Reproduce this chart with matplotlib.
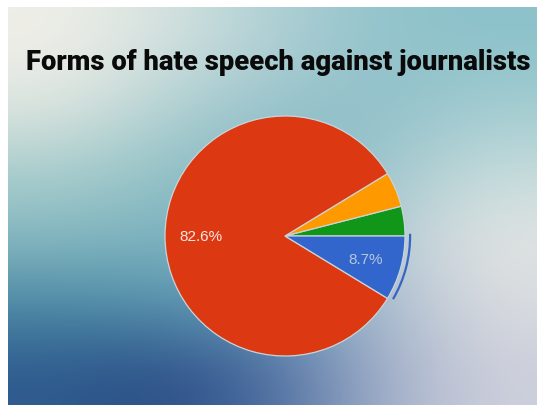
import numpy as np
import matplotlib.pyplot as plt
from matplotlib.patches import Arc
from matplotlib.colors import to_rgb

# slice shares in percent, counter-clockwise from 3 o'clock
shares = [4.0, 4.7, 82.6, 8.7]
slice_colors = ["#109618", "#ff9900", "#dc3912", "#3366cc"]
shown_labels = {2: "82.6%", 3: "8.7%"}
label_colors = {2: "#f6e8e2", 3: "#b4c8de"}
highlight = 3
title = "Forms of hate speech against journalists"

# soft background colour grid (rows top->bottom, cols left->right)
bg_grid = [
    ["#f0efe8", "#d5e2df", "#b0d0d5", "#93c3cb", "#8cc2ca"],
    ["#dfe6e0", "#b4d2d3", "#98c3cb", "#8fbfc9", "#a3ccd1"],
    ["#a9cdcd", "#93c2c6", "#7fb4c2", "#9fc6cd", "#c6dcdc"],
    ["#85b8c0", "#7db3bf", "#79b0c1", "#b4cbd4", "#e3e4e3"],
    ["#4b8aa5", "#5591ad", "#6d9fbc", "#a9bace", "#d9dce0"],
    ["#2e5a8e", "#2b4d86", "#4a6ca0", "#a0aec8", "#cdcfdc"],
]

W, H = 537, 406
fig = plt.figure(figsize=(W / 100, H / 100), dpi=100)
fig.patch.set_facecolor("white")

# gradient panel (white strip on left and top)
bg_ax = fig.add_axes([8 / W, 0, (W - 8) / W, (H - 8) / H])
bg = np.array([[to_rgb(c) for c in row] for row in bg_grid])
bg_ax.imshow(bg, aspect="auto", interpolation="bicubic",
             extent=[0, 1, 0, 1])
bg_ax.set_axis_off()

# title, scaled to span ~503 px
t = fig.text(278 / W, 1 - 63 / H, title, ha="center", va="center",
             fontsize=20, fontweight="black", color="#0a0a0a",
             family=["Roboto", "DejaVu Sans"])
renderer = fig.canvas.get_renderer()
tw = t.get_window_extent(renderer).width
t.set_fontsize(20 * 503 / tw)

# pie axes: centre at (285, 237) px, radius 120 px
cx, cy, r = 285, H - 237, 120
pad = 140
ax = fig.add_axes([(cx - pad) / W, (cy - pad) / H, 2 * pad / W, 2 * pad / H])

wedges, _ = ax.pie(shares, colors=slice_colors, startangle=0,
                   counterclock=True, radius=1.0,
                   wedgeprops=dict(edgecolor="#c9d4da", linewidth=0.9))
ax.set_xlim(-pad / r, pad / r)
ax.set_ylim(-pad / r, pad / r)
ax.set_axis_off()

for i, w in enumerate(wedges):
    if i in shown_labels:
        mid = np.deg2rad((w.theta1 + w.theta2) / 2)
        ax.text(0.7 * np.cos(mid), 0.7 * np.sin(mid), shown_labels[i],
                ha="center", va="center", fontsize=11,
                color=label_colors[i],
                family=["Liberation Sans", "DejaVu Sans"])

# selection ring around the highlighted slice
hw = wedges[highlight]
ax.add_patch(Arc((0, 0), 2.085, 2.085, theta1=hw.theta1 + 1.0,
                 theta2=hw.theta2 + 1.0, color="#3a63c4", lw=1.6))

fig.savefig("out.png", dpi=100)
